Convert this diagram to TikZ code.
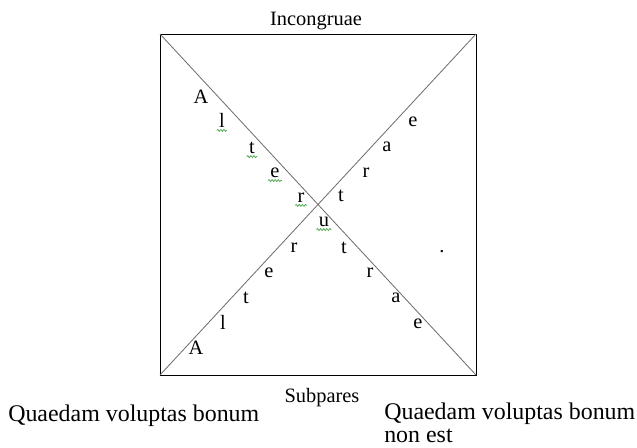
\documentclass[tikz,border=0pt]{standalone}
\usepackage{fontspec}
\setmainfont{Liberation Serif}
\usepackage{xcolor}
\usepackage{tikz}
\usetikzlibrary{decorations.pathmorphing}
\definecolor{diagGray}{RGB}{112,112,112}
\definecolor{spellGreen}{RGB}{70,165,70}

\begin{document}
\begin{tikzpicture}[x=0.025cm,y=-0.025cm,
    letter/.style={inner sep=0pt,anchor=base,font=\fontsize{14.5}{17}\selectfont},
    caption/.style={inner sep=0pt,font=\fontsize{17}{16}\selectfont},
    spellwave/.style={spellGreen,line width=0.5pt,decorate,
      decoration={snake,segment length=2.2pt,amplitude=0.7pt}}]
  \useasboundingbox (0,0) rectangle (637,447);
  % Square
  \coordinate (nw) at (160,34);
  \coordinate (ne) at (476,34);
  \coordinate (se) at (476,375);
  \coordinate (sw) at (160,375);
  \draw[line width=0.6pt] (nw) -- (ne) -- (se) -- (sw) -- cycle;
  % Diagonals
  \draw[diagGray,line width=0.6pt] (nw) -- (se);
  \draw[diagGray,line width=0.6pt] (sw) -- (ne);
  % Top and bottom labels
  \node[letter] (incong) at (316,25) {Incongruae};
  \node[letter] (subpar) at (322,402) {Subpares};
  % Letters, upper left
  \foreach \ch/\x/\y [count=\i] in {A/201/103, l/222/127, t/252/153, e/275/177, r/301/202, u/324/226}
    \node[letter] (ul\i) at (\x,\y) {\ch};
  \foreach \i in {2,...,6}
    \draw[spellwave] ([shift={(-1.5pt,-2.2pt)}]ul\i.south west) -- ([shift={(1.5pt,-2.2pt)}]ul\i.south east);
  % Letters, upper right
  \foreach \ch/\x/\y [count=\i] in {t/341/201, r/366/177, a/387/151, e/413/126}
    \node[letter] (ur\i) at (\x,\y) {\ch};
  % Letters, lower left
  \foreach \ch/\x/\y [count=\i] in {A/196/354, l/223/329, t/246/303, e/269/277, r/294/252}
    \node[letter] (ll\i) at (\x,\y) {\ch};
  % Letters, lower right
  \foreach \ch/\x/\y [count=\i] in {t/344/253, r/370/277, a/396/302, e/418/328}
    \node[letter] (lr\i) at (\x,\y) {\ch};
  \node[letter] (dot) at (442,252) {.};
  % Captions
  \node[caption,anchor=base west] (good) at (8,421) {Quaedam voluptas bonum};
  \node[caption,anchor=north west,align=left] (notgood) at (384,403) {Quaedam voluptas bonum\\non est};
\end{tikzpicture}
\end{document}
